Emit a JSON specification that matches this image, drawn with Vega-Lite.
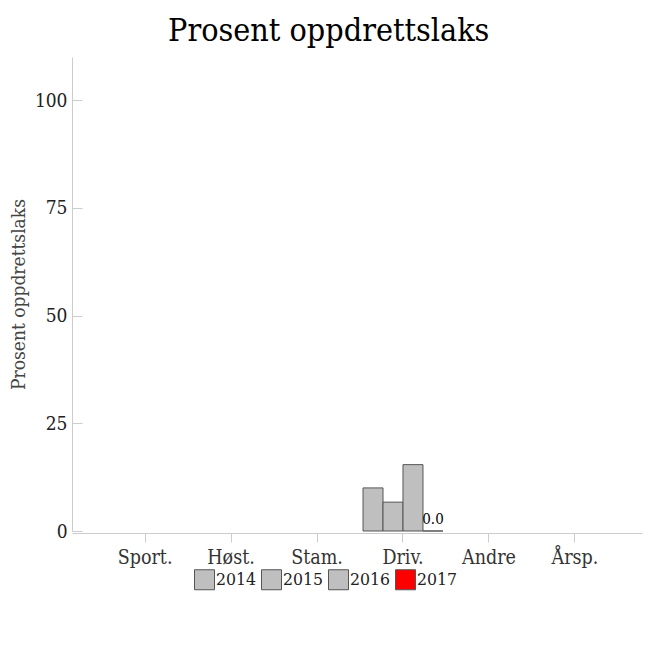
{
  "$schema": "https://vega.github.io/schema/vega-lite/v6.json",
  "width": 570,
  "height": 474,
  "autosize": {"type": "none"},
  "padding": {"left": 72, "top": 57, "right": 13, "bottom": 127},
  "background": "white",
  "title": {
    "text": "Prosent oppdrettslaks",
    "fontSize": 32,
    "font": "DejaVu Serif Condensed",
    "fontWeight": "normal",
    "color": "black",
    "anchor": "middle",
    "frame": "bounds",
    "offset": 9,
    "dx": 3
  },
  "data": {
    "values": [
      {"cat": "Driv.", "year": "2014", "value": 10.0},
      {"cat": "Driv.", "year": "2015", "value": 6.7},
      {"cat": "Driv.", "year": "2016", "value": 15.4},
      {"cat": "Driv.", "year": "2017", "value": 0.0}
    ]
  },
  "encoding": {
    "x": {
      "field": "cat",
      "type": "nominal",
      "sort": null,
      "scale": {
        "domain": ["Sport.", "Høst.", "Stam.", "Driv.", "Andre", "Årsp."],
        "paddingInner": 0.07,
        "paddingOuter": 0.35,
        "align": 0.55
      },
      "axis": {
        "title": null,
        "labelAngle": 0,
        "labelFontSize": 19.5,
        "labelColor": "#333",
        "labelPadding": 6,
        "tickColor": "#ccc",
        "domainColor": "#ccc",
        "tickSize": 9,
        "offset": 2
      }
    },
    "xOffset": {
      "field": "year",
      "type": "nominal",
      "scale": {"domain": ["2014", "2015", "2016", "2017"], "paddingInner": 0, "paddingOuter": 0}
    },
    "y": {
      "field": "value",
      "type": "quantitative",
      "scale": {"domain": [0, 110], "nice": false},
      "axis": {
        "title": "Prosent oppdrettslaks",
        "titleFontSize": 19,
        "titleFontWeight": "normal",
        "titleColor": "#444",
        "titlePadding": 6,
        "values": [0, 25, 50, 75, 100],
        "grid": false,
        "tickSize": -10,
        "tickColor": "#ccc",
        "domainColor": "#ccc",
        "labelFontSize": 19,
        "labelColor": "#222",
        "labelPadding": 15
      }
    }
  },
  "layer": [
    {
      "mark": {"type": "bar", "stroke": "#555", "strokeWidth": 1},
      "encoding": {
        "color": {
          "field": "year",
          "type": "nominal",
          "scale": {
            "domain": ["2014", "2015", "2016", "2017"],
            "range": ["#bfbfbf", "#bfbfbf", "#bfbfbf", "#ff0000"]
          },
          "legend": {
            "title": null,
            "orient": "none",
            "direction": "horizontal",
            "legendX": 122,
            "legendY": 512,
            "symbolType": "square",
            "symbolSize": 400,
            "symbolStrokeColor": "#555",
            "symbolStrokeWidth": 1,
            "symbolOpacity": 1,
            "labelFontSize": 17.5,
            "labelColor": "#222",
            "labelOffset": 1,
            "columnPadding": 2,
            "padding": 0
          }
        }
      }
    },
    {
      "transform": [{"filter": "datum.year == '2017'"}],
      "mark": {"type": "text", "baseline": "alphabetic", "align": "center", "dy": -7, "fontSize": 15, "color": "black"},
      "encoding": {
        "text": {"field": "value", "type": "quantitative", "format": ".1f"}
      }
    }
  ],
  "config": {
    "font": "DejaVu Serif Condensed",
    "view": {"stroke": null},
    "axis": {"labelFont": "DejaVu Serif Condensed", "titleFont": "DejaVu Serif Condensed"},
    "legend": {"labelFont": "DejaVu Serif Condensed"}
  }
}
